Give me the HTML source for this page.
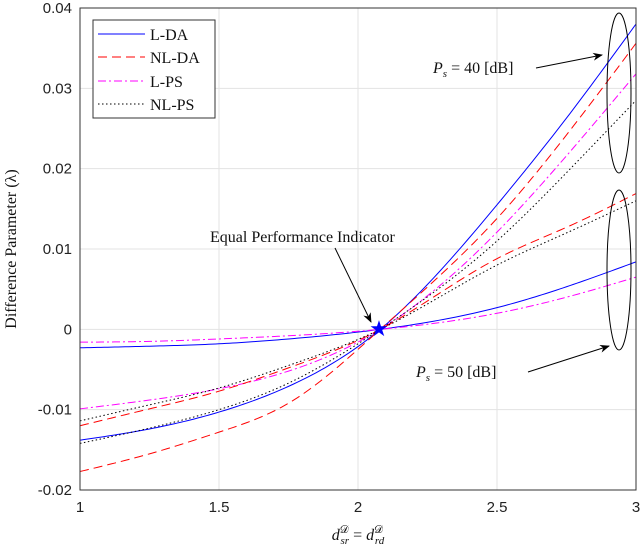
<!DOCTYPE html>
<html><head><meta charset="utf-8"><style>
body{margin:0;background:#fff}
svg{display:block}
.t{font-family:"Liberation Sans",sans-serif;font-size:15px;fill:#222}
.s{font-family:"Liberation Serif",serif;font-size:16px;fill:#111}
</style></head><body>
<svg id="c" width="640" height="549">
<g id="grid"></g>
<g id="ticks"></g>
<g id="series"></g>
<rect x="80" y="8" width="556" height="482" fill="none" stroke="#333" stroke-width="1"/>
<text class="s" transform="translate(16,249) rotate(-90)" text-anchor="middle">Difference Parameter (λ)</text>
<text class="s" x="358" y="540" text-anchor="middle"><tspan font-style="italic">d</tspan><tspan font-size="11" dy="-7">𝒟</tspan><tspan font-size="11" font-style="italic" dx="-8" dy="11">sr</tspan><tspan dy="-4"> = </tspan><tspan font-style="italic">d</tspan><tspan font-size="11" dy="-7">𝒟</tspan><tspan font-size="11" font-style="italic" dx="-8" dy="11">rd</tspan></text>
<g>
<rect x="93" y="20" width="122" height="98" fill="#fff" stroke="#333"/>
<line x1="98" y1="34" x2="145" y2="34" stroke="#00f"/>
<text class="s" x="150" y="40">L-DA</text>
<line x1="98" y1="57" x2="145" y2="57" stroke="#f00" stroke-dasharray="9,5"/>
<text class="s" x="150" y="63">NL-DA</text>
<line x1="98" y1="81" x2="145" y2="81" stroke="#f0f" stroke-dasharray="8,3,2,3"/>
<text class="s" x="150" y="87">L-PS</text>
<line x1="98" y1="104" x2="145" y2="104" stroke="#000" stroke-dasharray="1.5,2.5"/>
<text class="s" x="150" y="110">NL-PS</text>
</g>
<defs><marker id="ar" markerWidth="10" markerHeight="8" refX="9" refY="4" orient="auto"><path d="M0,0 L10,4 L0,8 L3,4 Z" fill="#000"/></marker></defs>
<ellipse cx="619" cy="93" rx="12" ry="80" fill="none" stroke="#000"/>
<ellipse cx="619" cy="270" rx="12" ry="80" fill="none" stroke="#000"/>
<text class="s" x="433" y="73" font-size="17"><tspan font-style="italic">P</tspan><tspan font-size="11" font-style="italic" dy="4">s</tspan><tspan dy="-4"> = 40 [dB]</tspan></text>
<line x1="536" y1="68" x2="602" y2="55" stroke="#000" marker-end="url(#ar)"/>
<text class="s" x="416" y="377" font-size="17"><tspan font-style="italic">P</tspan><tspan font-size="11" font-style="italic" dy="4">s</tspan><tspan dy="-4"> = 50 [dB]</tspan></text>
<line x1="528" y1="372" x2="609" y2="346" stroke="#000" marker-end="url(#ar)"/>
<text class="s" x="210" y="242">Equal Performance Indicator</text>
<line x1="335" y1="248" x2="371" y2="322" stroke="#000" marker-end="url(#ar)"/>
<text x="379" y="336" text-anchor="middle" font-size="22" fill="#00f" font-family="DejaVu Sans,sans-serif">★</text>
</svg>
<script>
const xTicks=[1,1.5,2,2.5,3];
const yTicks=[-0.02,-0.01,0,0.01,0.02,0.03,0.04];
const yTickLabels=["-0.02","-0.01","0","0.01","0.02","0.03","0.04"];
const xs=[1,1.25,1.5,1.75,2.08,2.5,2.75,3];
const lda40=[-0.0138,-0.0124,-0.0103,-0.0071,0,0.0155,0.0263,0.038];
const nlda40=[-0.0177,-0.0155,-0.0128,-0.0092,0,0.0138,0.0242,0.0356];
const lps40=[-0.0099,-0.0088,-0.0074,-0.0052,0,0.0121,0.0216,0.0318];
const nlps40=[-0.0142,-0.0123,-0.0100,-0.0067,0,0.0110,0.0195,0.0285];
const lda50=[-0.0023,-0.0021,-0.0018,-0.0012,0,0.0027,0.0053,0.0084];
const nlda50=[-0.012,-0.0099,-0.0077,-0.0048,0,0.0088,0.0127,0.0169];
const lps50=[-0.0016,-0.0015,-0.0012,-0.0008,0,0.002,0.004,0.0065];
const nlps50=[-0.0114,-0.0094,-0.0073,-0.0045,0,0.0080,0.0120,0.016];
const X=v=>80+(v-1)/2*556, Y=v=>490-(v+0.02)/0.06*482;
const NS='http://www.w3.org/2000/svg';
const grid=document.getElementById('grid'),ticks=document.getElementById('ticks'),ser=document.getElementById('series');
function mk(tag,a,p){const e=document.createElementNS(NS,tag);for(const k in a)e.setAttribute(k,a[k]);p.appendChild(e);return e;}
xTicks.forEach(v=>{
 const g=mk('line',{x1:X(v),x2:X(v),y1:8,y2:490,stroke:'#e3e3e3'},grid);
 
 
 const t=mk('text',{x:X(v),y:512,'text-anchor':'middle',class:'t'},ticks);t.textContent=String(v);
 
 
});
yTicks.forEach((v,i)=>{
 const g=mk('line',{x1:80,x2:636,y1:Y(v),y2:Y(v),stroke:'#e3e3e3'},grid);
 
 
 const t=mk('text',{x:72,y:Y(v)+5,'text-anchor':'end',class:'t'},ticks);t.textContent=yTickLabels[i];
 
 
});
// natural cubic spline, sampled finely
function path(ys){
 const n=xs.length,h=[],al=[0],l=[1],mu=[0],z=[0],c=new Array(n).fill(0),b=[],d=[];
 for(let i=0;i<n-1;i++)h.push(xs[i+1]-xs[i]);
 for(let i=1;i<n-1;i++)al[i]=3/h[i]*(ys[i+1]-ys[i])-3/h[i-1]*(ys[i]-ys[i-1]);
 for(let i=1;i<n-1;i++){l[i]=2*(xs[i+1]-xs[i-1])-h[i-1]*mu[i-1];mu[i]=h[i]/l[i];z[i]=(al[i]-h[i-1]*z[i-1])/l[i];}
 for(let j=n-2;j>=0;j--){c[j]=z[j]-mu[j]*c[j+1];b[j]=(ys[j+1]-ys[j])/h[j]-h[j]*(c[j+1]+2*c[j])/3;d[j]=(c[j+1]-c[j])/(3*h[j]);}
 let out='M'+X(xs[0])+','+Y(ys[0]);
 for(let i=0;i<n-1;i++){for(let k=1;k<=20;k++){const t=k/20*h[i];
   const v=ys[i]+b[i]*t+c[i]*t*t+d[i]*t*t*t;
   out+=' L'+X(xs[i]+t).toFixed(2)+','+Y(v).toFixed(2);}}
 return out;}
const defs=[[lda40,'#00f','','l-da-40'],[nlda40,'#f00','9,5','nl-da-40'],[lps40,'#f0f','8,3,2,3','l-ps-40'],[nlps40,'#000','1.5,2.5','nl-ps-40'],
[lda50,'#00f','','l-da-50'],[nlda50,'#f00','9,5','nl-da-50'],[lps50,'#f0f','8,3,2,3','l-ps-50'],[nlps50,'#000','1.5,2.5','nl-ps-50']];
defs.forEach(s=>{
 const e=mk('path',{d:path(s[0]),fill:'none',stroke:s[1],'stroke-width':1,'stroke-dasharray':s[2]||'none'},ser);
 
 
});
</script>
</body></html>
